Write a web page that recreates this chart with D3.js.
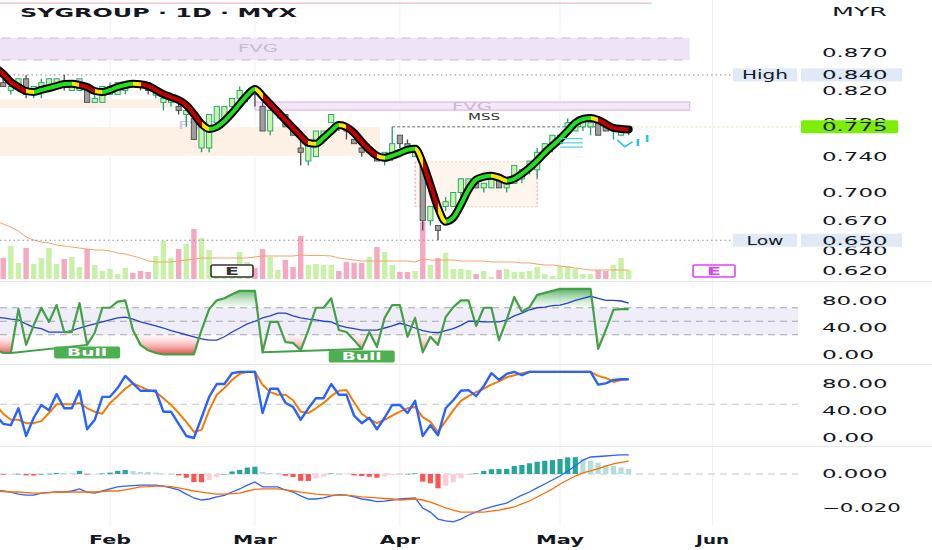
<!DOCTYPE html>
<html><head><meta charset="utf-8">
<script src="https://cdn.jsdelivr.net/npm/d3@7"></script>
<style>
html,body{margin:0;padding:0;background:#fff;}
svg{display:block;}
</style></head><body>
<svg id="c" width="932" height="550"></svg>
<script>
// ---------------- DATA ----------------
const monthLabels = ["Feb","Mar","Apr","May","Jun"];
const monthIdx    = [15, 34, 53, 74, 94];

const open = [
 .835,.830,.820,.825,.835,.815,.820,.825,.825,.830,
 .820,.820,.825,.805,.805,.815,.815,.820,.830,.830,
 .830,.814,.805,.805,.800,.790,.785,.750,.750,.780,
 .780,.800,.810,.810,.825,.800,.770,.790,.790,.775,
 .750,.735,.740,.760,.780,.780,.775,.760,.750,.745,
 .740,.735,.740,.765,.755,.740,.730,.670,.665,.685,
 .685,.700,.705,.710,.705,.705,.720,.705,.710,.715,
 .725,.725,.745,.750,.755,.775,.770,.775,.775,.780,
 .775,.770,.765,.770];
const high = [
 .840,.835,.825,.835,.840,.825,.835,.835,.835,.840,
 .830,.835,.825,.815,.825,.830,.830,.830,.830,.830,
 .830,.820,.810,.815,.810,.805,.790,.775,.790,.800,
 .800,.810,.825,.815,.825,.805,.795,.795,.790,.775,
 .760,.755,.770,.770,.790,.780,.775,.760,.750,.755,
 .745,.745,.775,.765,.760,.750,.735,.685,.665,.695,
 .700,.715,.715,.715,.710,.720,.720,.710,.730,.725,
 .735,.750,.755,.765,.765,.785,.780,.785,.785,.780,
 .775,.775,.775,.775];
const low = [
 .825,.825,.815,.820,.810,.810,.810,.820,.825,.820,
 .820,.820,.805,.805,.805,.815,.815,.815,.825,.820,
 .815,.810,.795,.800,.790,.775,.760,.745,.745,.775,
 .780,.795,.810,.805,.800,.770,.765,.785,.775,.765,
 .730,.730,.740,.755,.780,.770,.760,.755,.740,.745,
 .735,.730,.735,.750,.745,.740,.660,.665,.650,.680,
 .685,.695,.705,.705,.700,.705,.705,.700,.710,.710,
 .720,.715,.740,.745,.755,.770,.770,.770,.765,.765,
 .770,.760,.765,.765];
const close = [
 .830,.825,.825,.835,.815,.825,.830,.835,.835,.830,
 .830,.835,.805,.810,.825,.825,.830,.830,.825,.825,
 .820,.816,.810,.810,.795,.795,.760,.775,.790,.800,
 .800,.810,.820,.815,.815,.770,.795,.795,.775,.765,
 .745,.755,.770,.770,.790,.775,.770,.755,.745,.750,
 .735,.745,.755,.755,.750,.750,.670,.685,.660,.690,
 .700,.715,.715,.705,.710,.715,.705,.710,.730,.725,
 .735,.745,.755,.765,.765,.780,.780,.785,.780,.765,
 .770,.775,.775,.775];
const ribbon = [
 .8490,.8412,.8308,.8244,.8193,.8180,.8206,.8231,.8257,.8282,
 .8285,.8270,.8244,.8193,.8180,.8206,.8244,.8270,.8285,.8280,
 .8257,.8206,.8155,.8116,.8079,.8016,.7906,.7785,.7725,.7749,
 .7821,.7918,.8029,.8141,.8218,.8129,.8029,.7930,.7833,.7737,
 .7643,.7560,.7549,.7619,.7701,.7773,.7749,.7678,.7572,.7479,
 .7410,.7387,.7410,.7444,.7479,.7491,.7330,.7085,.6836,.6690,
 .6731,.6868,.7030,.7140,.7173,.7184,.7162,.7129,.7151,.7206,
 .7273,.7353,.7444,.7526,.7607,.7701,.7797,.7845,.7857,.7833,
 .7785,.7737,.7725,.7719];
const volume = [
 480,420,660,320,620,300,420,620,300,400,
 440,240,600,280,160,200,100,220,120,160,
 140,460,760,420,600,700,1000,820,580,280,
 220,260,540,340,220,600,440,180,380,240,
 860,280,300,280,280,160,340,320,320,440,
 640,540,280,140,140,160,1140,280,420,520,
 200,200,180,100,160,40,180,200,140,140,
 160,240,100,60,260,260,200,100,100,180,
 160,280,420,180];
const volumeMA = [
 1160,1100,1040,960,840,780,740,720,680,660,
 640,620,600,580,580,560,520,500,460,420,
 360,340,340,340,360,380,400,420,420,420,
 420,420,420,420,440,460,460,460,460,460,
 480,470,470,470,460,420,400,380,360,360,
 360,360,360,360,360,340,400,380,380,380,
 380,360,360,360,360,340,340,340,340,320,
 320,300,280,280,260,240,220,200,180,180,
 180,180,180,180];
const rsi = [
 8,3,3,68,15,44,70,49,74,34,
 34,77,15,33,70,70,79,81,37,15,
 7,3,1,1,1,1,1,37,68,81,
 84,90,95,95,95,4,49,49,19,18,
 7,37,70,70,84,37,34,22,9,34,
 12,55,74,74,27,55,4,27,15,56,
 71,81,81,43,70,70,22,52,86,64,
 71,89,92,95,98,98,98,98,98,9,
 37,67,68,68];
const rsiMA = [
 56,55,53,52,46,41,39,34,34,34,
 36,40,43,46,49,52,55,56,53,49,
 46,43,40,36,33,30,27,24,22,22,
 27,34,40,46,50,55,58,62,62,58,
 55,53,52,50,49,44,41,39,37,37,
 37,40,43,47,44,40,36,34,33,36,
 39,44,50,50,49,49,49,52,58,62,
 67,70,71,73,74,77,81,84,87,84,
 81,81,80,77];
const stochK = [
 34,21,19,44,3,30,49,41,65,44,
 44,70,13,27,61,61,74,92,81,70,
 70,70,39,39,21,3,0,30,61,80,
 80,96,98,98,98,37,73,73,52,46,
 27,44,59,59,80,64,64,33,22,30,
 13,30,49,49,37,55,3,19,4,44,
 56,70,71,62,77,96,86,95,98,93,
 98,98,98,98,98,98,98,98,98,79,
 81,86,87,87];
const stochD = [
 49,36,27,27,22,22,25,37,50,50,
 50,52,44,39,36,52,62,73,81,76,
 71,68,59,49,37,24,9,12,41,64,
 74,86,95,98,98,79,68,64,64,56,
 39,37,44,52,62,70,71,53,36,28,
 22,27,33,39,44,46,31,24,9,25,
 41,55,62,68,73,79,84,90,93,96,
 98,98,98,98,98,98,98,98,98,92,
 89,83,86,87];
const macd = [
 -.0094,-.0100,-.0106,-.0118,-.0124,-.0124,-.0112,-.0109,-.0106,-.0106,
 -.0100,-.0088,-.0106,-.0112,-.0100,-.0088,-.0076,-.0071,-.0068,-.0065,
 -.0065,-.0065,-.0071,-.0082,-.0094,-.0118,-.0141,-.0153,-.0147,-.0135,
 -.0126,-.0106,-.0088,-.0065,-.0047,-.0076,-.0076,-.0076,-.0094,-.0106,
 -.0129,-.0147,-.0147,-.0141,-.0129,-.0121,-.0124,-.0135,-.0147,-.0153,
 -.0162,-.0159,-.0153,-.0147,-.0144,-.0141,-.0200,-.0224,-.0265,-.0276,
 -.0282,-.0265,-.0241,-.0224,-.0206,-.0194,-.0182,-.0171,-.0147,-.0124,
 -.0106,-.0082,-.0059,-.0035,-.0012,.0018,.0047,.0082,.0100,.0103,
 .0106,.0109,.0112,.0112];
const signal = [
 -.0100,-.0103,-.0106,-.0106,-.0109,-.0112,-.0112,-.0109,-.0106,-.0106,
 -.0106,-.0106,-.0106,-.0106,-.0103,-.0100,-.0100,-.0094,-.0085,-.0076,
 -.0074,-.0071,-.0071,-.0074,-.0082,-.0091,-.0100,-.0106,-.0112,-.0118,
 -.0118,-.0115,-.0112,-.0100,-.0091,-.0088,-.0088,-.0088,-.0094,-.0100,
 -.0106,-.0112,-.0118,-.0121,-.0124,-.0124,-.0126,-.0129,-.0135,-.0138,
 -.0141,-.0144,-.0147,-.0153,-.0150,-.0147,-.0153,-.0165,-.0182,-.0200,
 -.0212,-.0224,-.0224,-.0224,-.0224,-.0218,-.0212,-.0203,-.0194,-.0176,
 -.0159,-.0135,-.0112,-.0088,-.0059,-.0035,-.0012,.0006,.0018,.0032,
 .0047,.0059,.0068,.0076];
const hist = [
 -.0002,-.0003,-.0002,.0001,-.0008,-.0009,.0000,.0001,.0006,.0006,
 .0006,.0018,-.0002,-.0002,.0003,.0008,.0018,.0024,.0018,.0012,
 .0012,.0008,.0002,.0000,-.0008,-.0022,-.0048,-.0049,-.0035,-.0018,
 .0000,.0015,.0024,.0038,.0043,.0012,.0006,.0004,-.0010,-.0018,
 -.0040,-.0041,-.0025,-.0016,.0003,.0002,.0002,-.0008,-.0012,-.0016,
 -.0022,-.0014,-.0006,-.0001,.0001,.0004,-.0045,-.0055,-.0084,-.0069,
 -.0049,-.0025,-.0006,.0004,.0018,.0028,.0029,.0030,.0047,.0053,
 .0063,.0072,.0078,.0082,.0088,.0098,.0099,.0088,.0078,.0066,
 .0053,.0047,.0039,.0029];

const priceTicks = [0.870,0.840,0.820,0.780,0.740,0.700,0.670,0.640,0.620];
const oscTicks   = [80,40,0];
const macdTicks  = [0,-0.02];
// zones: [topPrice, bottomPrice, fromBar, toBar]
const fvgZones   = [[0.8895,0.8597,-16,91],[0.8054,0.7954,34,91]];
const peachZones = [[0.8091,0.7979,-16,23.5],[0.7749,0.7410,-16,50.4]];
const rangeBox   = [0.7341,0.6847,55,71];
const mssLevel   = [0.775, 52, 83.5];
const bullDiv    = [[2,12],[35,48]];
const cyanLevels = [0.761,0.756,0.751];
const cyanZig    = [[81.5,0.7595],[82.5,0.7514],[83.5,0.7572]];
const topLine    = [0.939,-16,86];

// ---------------- SETUP ----------------
const N = close.length;
const PR = 800;
const FONT = "DejaVu Sans, sans-serif";
const svg = d3.select("#c");
const defs = svg.append("defs");
const x  = d3.scaleLinear().domain([15,94]).range([110,712.6]);
const yP = d3.scaleLog().domain([0.62,0.87]).range([270.7,52.3]);
const yV = d3.scaleLinear().domain([0,1000]).range([279,229]);
const yR = d3.scaleLinear().domain([0,100]).range([355,287.5]);
const yS = d3.scaleLinear().domain([0,100]).range([438,370.5]);
const yM = d3.scaleLinear().domain([-0.02,0]).range([508,474]);

function clip(id,x0,y0,w,h){defs.append("clipPath").attr("id",id).append("rect").attr("x",x0).attr("y",y0).attr("width",w).attr("height",h);}
clip("cMain",0,0,PR,281); clip("cRsi",0,281,PR,83); clip("cSt",0,364,PR,82); clip("cMacd",0,446,PR,80);
clip("cAbove",0,281,PR,yR(70)-281); clip("cBelow",0,yR(30),PR,364-yR(30));

function txt(parent,s,cx,y,o){
  const t=parent.append("text").text(s).attr("y",y).attr("font-family",FONT)
   .attr("font-size",o.size||12).attr("font-weight",o.weight||"normal").attr("fill",o.fill||"#131722")
   .attr("textLength",o.len).attr("lengthAdjust","spacingAndGlyphs");
  t.attr("x", o.anchor==="start"? cx : cx-o.len/2);
  return t;
}

svg.append("rect").attr("width",932).attr("height",550).attr("fill","#fff");

// grid
svg.append("g").selectAll("line").data(monthIdx).join("line")
  .attr("x1",d=>x(d)).attr("x2",d=>x(d)).attr("y1",0).attr("y2",526)
  .attr("stroke","#eef0f4").attr("stroke-width",1);
// panel separators
svg.append("g").selectAll("line").data([281.5,364.5,446.5]).join("line")
  .attr("x1",0).attr("x2",932).attr("y1",d=>d).attr("y2",d=>d).attr("stroke","#e3e5ea");

// ---------------- MAIN PANEL ----------------
const gm = svg.append("g").attr("clip-path","url(#cMain)");
gm.selectAll(".pz").data(peachZones).join("rect")
  .attr("x",d=>x(d[2])).attr("width",d=>x(d[3])-x(d[2]))
  .attr("y",d=>yP(d[0])).attr("height",d=>yP(d[1])-yP(d[0])).attr("fill","#fdf1e6");
fvgZones.forEach((d,i)=>{
  gm.append("rect").attr("x",x(d[2])).attr("width",x(d[3])-x(d[2]))
    .attr("y",yP(d[0])).attr("height",yP(d[1])-yP(d[0]))
    .attr("fill", i===0?"#efe4f7":"#f4e8f8").attr("stroke", i===0?"none":"#d9aee6").attr("stroke-width",1);
  if(i===0){
    [d[0],d[1]].forEach(p=>gm.append("line").attr("x1",x(d[2])).attr("x2",x(d[3])).attr("y1",yP(p)).attr("y2",yP(p))
      .attr("stroke","#cdb5da").attr("stroke-dasharray","9,7"));
  }
});
gm.append("line").attr("x1",x(topLine[1])).attr("x2",x(topLine[2])).attr("y1",yP(topLine[0])).attr("y2",yP(topLine[0]))
  .attr("stroke","#f2b9cb").attr("stroke-width",1.2);
gm.append("rect").attr("x",x(rangeBox[2])).attr("width",x(rangeBox[3])-x(rangeBox[2]))
  .attr("y",yP(rangeBox[0])).attr("height",yP(rangeBox[1])-yP(rangeBox[0])).attr("fill","#fef5ed");
[rangeBox[0],rangeBox[1]].forEach(p=>gm.append("line").attr("x1",x(rangeBox[2])).attr("x2",x(rangeBox[3]))
  .attr("y1",yP(p)).attr("y2",yP(p)).attr("stroke","#f6cfb0").attr("stroke-dasharray","2,2"));
[rangeBox[2],rangeBox[3]].forEach(k=>gm.append("line").attr("x1",x(k)).attr("x2",x(k))
  .attr("y1",yP(rangeBox[0])).attr("y2",yP(rangeBox[1])).attr("stroke","#f48fb1").attr("stroke-dasharray","2,2"));
txt(gm,"FVG",258,52,{size:10,len:40,fill:"#c9b9d2"});
txt(gm,"FVG",472,110,{size:10,len:40,fill:"#c9b9d2"});
txt(gm,"FVG",178,129,{size:10,len:40,fill:"#d0c4d8",anchor:"start"});

// volume
const isUp = i => close[i] > open[i];
gm.selectAll(".vol").data(volume).join("rect")
  .attr("x",(d,i)=>x(i)-2.7).attr("width",5.4)
  .attr("y",d=>yV(d)).attr("height",d=>yV(0)-yV(d))
  .attr("fill",(d,i)=>isUp(i)?"#c6f1a6":"#f5a8bf");
gm.append("path").datum(volumeMA).attr("fill","none").attr("stroke","#f3a468").attr("stroke-width",1)
  .attr("d",d3.line().x((d,i)=>x(i)).y(d=>yV(d)));

const hi = d3.max(high), lo = d3.min(low), last = close[N-1];
[hi,lo].forEach(p=>gm.append("line").attr("x1",0).attr("x2",733).attr("y1",yP(p)).attr("y2",yP(p))
  .attr("stroke","#8a8d96").attr("stroke-dasharray","1.5,3"));
gm.append("line").attr("x1",x(mssLevel[2])).attr("x2",PR).attr("y1",yP(last)).attr("y2",yP(last))
  .attr("stroke","#c3e88a").attr("stroke-dasharray","1.5,3");
gm.append("line").attr("x1",x(mssLevel[1])).attr("x2",x(mssLevel[2])).attr("y1",yP(mssLevel[0])).attr("y2",yP(mssLevel[0]))
  .attr("stroke","#555").attr("stroke-dasharray","3,2").attr("stroke-width",0.9);
txt(gm,"MSS",484,120,{size:8,len:32,fill:"#333"});

// candles
const cg = gm.append("g");
d3.range(N).forEach(i=>{
  const up = isUp(i);
  const sc = up?"#1f9e6e":"#4a4a4a";
  cg.append("line").attr("x1",x(i)).attr("x2",x(i)).attr("y1",yP(high[i])).attr("y2",yP(low[i]))
    .attr("stroke",sc).attr("stroke-width",1.3);
  const y0=yP(Math.max(open[i],close[i])), y1=yP(Math.min(open[i],close[i]));
  cg.append("rect").attr("x",x(i)-2.6).attr("width",5.2).attr("y",y0).attr("height",Math.max(1.2,y1-y0))
    .attr("fill",up?"#c6f6a6":"#9e9e9e").attr("stroke",sc).attr("stroke-width",0.9);
});

// ribbon
const dir = d3.range(N-1).map(i=>Math.sign(ribbon[i+1]-ribbon[i]));
const segColor = dir.map((d,i)=>{
  const turn = d<0 && ((i>0&&dir[i-1]>0)||(i<N-2&&dir[i+1]>0));
  return turn?"#ffe600":(d>=0?"#1ee01e":"#c20000");
});
const grad = defs.append("linearGradient").attr("id","ribGrad").attr("gradientUnits","userSpaceOnUse")
  .attr("x1",x(0)).attr("x2",x(N-1)).attr("y1",0).attr("y2",0);
const span = x(N-1)-x(0);
segColor.forEach((c,i)=>{
  grad.append("stop").attr("offset",(x(i)-x(0))/span).attr("stop-color",c);
  grad.append("stop").attr("offset",(x(i+1)-x(0))/span).attr("stop-color",c);
});
const ribLine = d3.line().x((d,i)=>x(i)).y(d=>yP(d)).curve(d3.curveMonotoneX);
gm.append("path").datum(ribbon).attr("d",ribLine).attr("fill","none").attr("stroke","#000")
  .attr("stroke-width",8).attr("stroke-linejoin","round").attr("stroke-linecap","round");
gm.append("path").datum(ribbon).attr("d",ribLine).attr("fill","none").attr("stroke","url(#ribGrad)")
  .attr("stroke-width",4).attr("stroke-linejoin","round");

// cyan markers
cyanLevels.forEach(p=>gm.append("line").attr("x1",x(74)).attr("x2",x(77)).attr("y1",yP(p)).attr("y2",yP(p))
  .attr("stroke","#4dd0e1").attr("stroke-width",1.2));
gm.append("path").datum(cyanZig).attr("fill","none").attr("stroke","#26c6da").attr("stroke-width",1.6)
  .attr("d",d3.line().x(d=>x(d[0])).y(d=>yP(d[1])));
txt(gm,"I",x(84.2),yP(0.752),{size:9,weight:"bold",len:5,fill:"#26c6da"});
txt(gm,"I",x(85.4),yP(0.757),{size:9,weight:"bold",len:5,fill:"#26c6da"});

// E labels
function eLabel(x0,stroke,fill){
  svg.append("rect").attr("x",x0).attr("y",265).attr("width",42).attr("height",12).attr("rx",2)
    .attr("fill","#fff").attr("stroke",stroke).attr("stroke-width",1.6);
  txt(svg,"E",x0+21,275,{size:11,weight:"bold",len:14,fill:fill});
}
eLabel(211,"#333","#333");
eLabel(693,"#e040fb","#e040fb");

txt(svg,"SYGROUP · 1D · MYX",20,17,{size:13,weight:"bold",len:277,anchor:"start",fill:"#131722"});
txt(svg,"MYR",832,16,{size:12,len:55,anchor:"start",fill:"#131722"});

// ---------------- RSI PANEL ----------------
const gr = svg.append("g").attr("clip-path","url(#cRsi)");
gr.append("rect").attr("x",0).attr("width",798).attr("y",yR(70)).attr("height",yR(30)-yR(70)).attr("fill","#efedf8");
[70,50,30].forEach(v=>gr.append("line").attr("x1",0).attr("x2",798).attr("y1",yR(v)).attr("y2",yR(v))
  .attr("stroke","#a3a6ae").attr("stroke-dasharray","7,5"));
const gUp = defs.append("linearGradient").attr("id","gUp").attr("gradientUnits","userSpaceOnUse")
  .attr("x1",0).attr("x2",0).attr("y1",yR(100)).attr("y2",yR(70));
gUp.append("stop").attr("offset",0).attr("stop-color","#2e9e3e").attr("stop-opacity",0.9);
gUp.append("stop").attr("offset",1).attr("stop-color","#a5d6a7").attr("stop-opacity",0.1);
const gDn = defs.append("linearGradient").attr("id","gDn").attr("gradientUnits","userSpaceOnUse")
  .attr("x1",0).attr("x2",0).attr("y1",yR(30)).attr("y2",yR(0));
gDn.append("stop").attr("offset",0).attr("stop-color","#ffcdd2").attr("stop-opacity",0.15);
gDn.append("stop").attr("offset",1).attr("stop-color","#e53935").attr("stop-opacity",0.95);
gr.append("path").datum(rsi).attr("fill","url(#gUp)").attr("clip-path","url(#cAbove)")
  .attr("d",d3.area().x((d,i)=>x(i)).y0(yR(70)).y1(d=>yR(d)));
gr.append("path").datum(rsi).attr("fill","url(#gDn)").attr("clip-path","url(#cBelow)")
  .attr("d",d3.area().x((d,i)=>x(i)).y0(yR(30)).y1(d=>yR(d)));
gr.append("path").datum(rsiMA).attr("fill","none").attr("stroke","#2341c8").attr("stroke-width",1.3)
  .attr("d",d3.line().x((d,i)=>x(i)).y(d=>yR(d)));
gr.append("path").datum(rsi).attr("fill","none").attr("stroke","#43a047").attr("stroke-width",2.2)
  .attr("stroke-linejoin","round").attr("d",d3.line().x((d,i)=>x(i)).y(d=>yR(d)));
bullDiv.forEach(([a,b])=>{
  gr.append("line").attr("x1",x(a)).attr("x2",x(b)).attr("y1",yR(rsi[a])).attr("y2",yR(rsi[b]))
    .attr("stroke","#43a047").attr("stroke-width",2);
  const cy = yR(rsi[b])+1.5;
  gr.append("rect").attr("x",x(b)-33).attr("y",cy).attr("width",66).attr("height",12).attr("rx",2).attr("fill","#4caf50");
  txt(gr,"Bull",x(b),cy+10,{size:10,weight:"bold",len:40,fill:"#fff"});
});

// ---------------- STOCH PANEL ----------------
const gs = svg.append("g").attr("clip-path","url(#cSt)");
gs.append("line").attr("x1",0).attr("x2",798).attr("y1",yS(50)).attr("y2",yS(50))
  .attr("stroke","#c4c6cc").attr("stroke-dasharray","7,5");
gs.append("path").datum(stochD).attr("fill","none").attr("stroke","#f57c00").attr("stroke-width",2)
  .attr("stroke-linejoin","round").attr("d",d3.line().x((d,i)=>x(i)).y(d=>yS(d)));
gs.append("path").datum(stochK).attr("fill","none").attr("stroke","#2962ff").attr("stroke-width",2.4)
  .attr("stroke-linejoin","round").attr("d",d3.line().x((d,i)=>x(i)).y(d=>yS(d)));

// ---------------- MACD PANEL ----------------
const gc = svg.append("g").attr("clip-path","url(#cMacd)");
gc.append("line").attr("x1",0).attr("x2",798).attr("y1",yM(0)).attr("y2",yM(0))
  .attr("stroke","#c4c6cc").attr("stroke-dasharray","7,5");
gc.selectAll(".h").data(hist).join("rect")
  .attr("x",(d,i)=>x(i)-2.6).attr("width",5.2)
  .attr("y",d=>Math.min(yM(d),yM(0))).attr("height",d=>Math.max(0.6,Math.abs(yM(d)-yM(0))))
  .attr("fill",(d,i)=>{
    const p = i>0?hist[i-1]:null;
    if(d>=0) return (p===null||d>p)?"#26a69a":"#b2dfdb";
    return (p===null||d<p)?"#ff5252":"#ffcdd2";
  });
gc.append("path").datum(macd).attr("fill","none").attr("stroke","#2962ff").attr("stroke-width",1.3)
  .attr("d",d3.line().x((d,i)=>x(i)).y(d=>yM(d)));
gc.append("path").datum(signal).attr("fill","none").attr("stroke","#ff6d00").attr("stroke-width",1.3)
  .attr("d",d3.line().x((d,i)=>x(i)).y(d=>yM(d)));

// ---------------- AXES ----------------
function rightAxis(scale,ticks,fmt){
  const g=svg.append("g").attr("transform","translate(822,0)")
    .call(d3.axisRight(scale).tickValues(ticks).tickFormat(fmt).tickSize(0).tickPadding(0));
  g.select(".domain").remove();
  g.attr("font-family",FONT).attr("font-size",12);
  g.selectAll("text").attr("x",0).attr("text-anchor","start").attr("fill","#131722")
    .each(function(){const n=this.textContent.length; d3.select(this).attr("textLength",n*13.3-1).attr("lengthAdjust","spacingAndGlyphs");});
  return g;
}
rightAxis(yP,priceTicks,d3.format(".3f"));
rightAxis(yR,oscTicks,d3.format(".2f"));
rightAxis(yS,oscTicks,d3.format(".2f"));
rightAxis(yM,macdTicks,d3.format(".3f"));

function priceTag(p,name,fill){
  const cy=yP(p);
  if(name){
    svg.append("rect").attr("x",733).attr("y",cy-6.5).attr("width",64).attr("height",13).attr("fill","#dfe9f7");
    txt(svg,name,765,cy+4.3,{size:12,len:name.length===4?46:37,fill:"#131722"});
  }
  svg.append("rect").attr("x",801).attr("y",cy-6.5).attr("width",name?101:97).attr("height",13).attr("rx",name?0:1.5).attr("fill",fill);
  txt(svg,d3.format(".3f")(p),822,cy+4.3,{size:12,len:65.5,anchor:"start",fill:"#131722"});
}
priceTag(hi,"High","#dfe9f7");
priceTag(lo,"Low","#dfe9f7");
priceTag(last,null,"#7cee0a");

const monthLen=[42,44,40,48,33];
monthLabels.forEach((m,i)=>txt(svg,m,x(monthIdx[i]),544,{size:12,weight:"bold",len:monthLen[i],fill:"#131722"}));
</script>
</body></html>
